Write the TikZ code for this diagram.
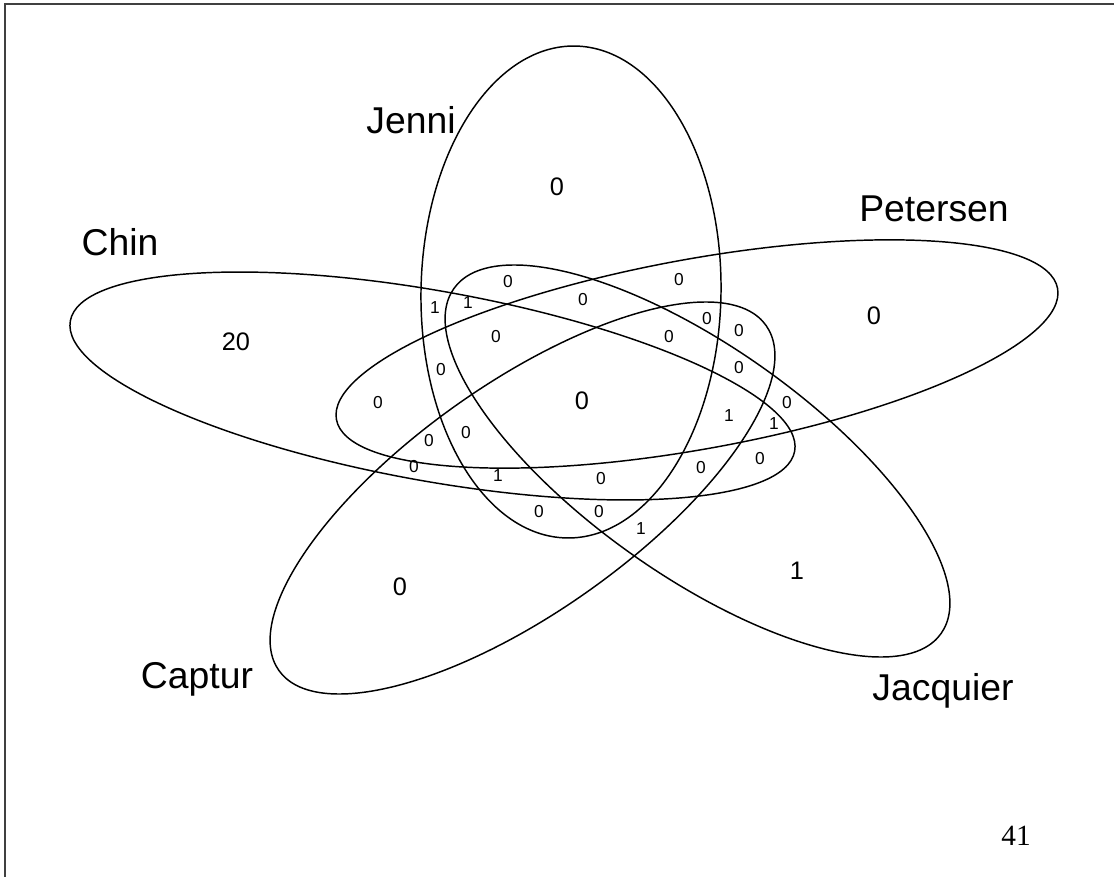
\documentclass[tikz,border=0pt]{standalone}
\usepackage{fontspec}
\setmainfont{Liberation Sans}
\newfontfamily\pagefont{Liberation Serif}

\tikzset{every picture/.style={line width=0.75pt}}
\tikzset{
  setline/.style={line width=1.1pt},
  frameline/.style={line width=1.4pt,color=black!75},
  setname/.style={inner sep=0.75pt,anchor=base,font=\fontsize{28}{30}\selectfont},
  bigcount/.style={inner sep=0.75pt,font=\fontsize{19}{21}\selectfont},
  count/.style={inner sep=0.75pt,font=\fontsize{13}{15}\selectfont},
}

\begin{document}
\begin{tikzpicture}[x=0.75pt,y=0.75pt,yscale=-1,xscale=1]
\useasboundingbox (0,0) rectangle (1114,877);

%Shape: Rectangle [id:frame]
\draw [frameline] (5,4) rectangle (1130,900) ;

%Shape: Ellipse [id:jenni]
\draw [setline, rotate around={1:(571,292)}] (571,292) ellipse (150 and 246) ;
%Shape: Ellipse [id:chin]
\draw [setline, rotate around={10.2:(432.5,386)}] (432.5,386) ellipse (368 and 95) ;
%Shape: Ellipse [id:petersen]
\draw [setline, rotate around={-10.3:(697,354)}] (697,354) ellipse (366.5 and 95) ;
%Shape: Ellipse [id:jacquier]
\draw [setline, rotate around={35.3:(697.5,461)}] (697.5,461) ellipse (298.5 and 114) ;
%Shape: Ellipse [id:captur]
\draw [setline, rotate around={-35.3:(522.5,498)}] (522.5,498) ellipse (298.5 and 114) ;

% Text Node
\node [setname] (jenni) at (411,134) {Jenni};
% Text Node
\node [setname] (chin) at (120,256) {Chin};
% Text Node
\node [setname] (petersen) at (934,222) {Petersen};
% Text Node
\node [setname] (captur) at (197,688) {Captur};
% Text Node
\node [setname] (jacquier) at (943,700) {Jacquier};
% Text Node
\node [inner sep=0.75pt,anchor=base,font=\pagefont\fontsize{22}{24}\selectfont] (page) at (1016,845) {41};

% Text Node
\node [bigcount] (onlyj) at (557,187) {0};
% Text Node
\node [bigcount] (onlyc) at (236,342) {20};
% Text Node
\node [bigcount] (onlyp) at (874,316) {0};
% Text Node
\node [bigcount] (all) at (582,401) {0};
% Text Node
\node [bigcount] (onlyca) at (400,587) {0};
% Text Node
\node [bigcount] (onlyja) at (797,571) {1};

% Text Node
\node [count] (r1) at (508,282) {0};
% Text Node
\node [count] (r2) at (435,308) {1};
% Text Node
\node [count] (r3) at (468,303) {1};
% Text Node
\node [count] (r4) at (679,280) {0};
% Text Node
\node [count] (r5) at (583,300) {0};
% Text Node
\node [count] (r6) at (496,337) {0};
% Text Node
\node [count] (r7) at (707,319) {0};
% Text Node
\node [count] (r8) at (739,331) {0};
% Text Node
\node [count] (r9) at (669,337) {0};
% Text Node
\node [count] (r10) at (739,368) {0};
% Text Node
\node [count] (r11) at (441,370) {0};
% Text Node
\node [count] (r12) at (378,403) {0};
% Text Node
\node [count] (r13) at (729,416) {1};
% Text Node
\node [count] (r14) at (787,403) {0};
% Text Node
\node [count] (r15) at (774,424) {1};
% Text Node
\node [count] (r16) at (429,441) {0};
% Text Node
\node [count] (r17) at (466,433) {0};
% Text Node
\node [count] (r18) at (760,459) {0};
% Text Node
\node [count] (r19) at (414,467) {0};
% Text Node
\node [count] (r20) at (498,476) {1};
% Text Node
\node [count] (r21) at (601,479) {0};
% Text Node
\node [count] (r22) at (701,468) {0};
% Text Node
\node [count] (r23) at (539,512) {0};
% Text Node
\node [count] (r24) at (599,512) {0};
% Text Node
\node [count] (r25) at (641,529) {1};

\end{tikzpicture}
\end{document}
